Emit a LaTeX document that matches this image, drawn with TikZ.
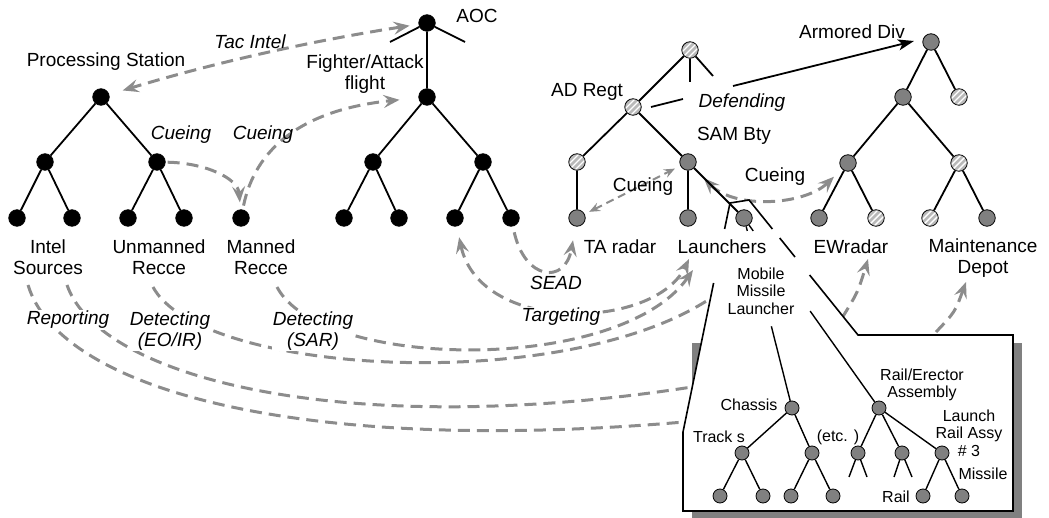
\documentclass[tikz,border=0pt]{standalone}
\usepackage{fontspec}
\setmainfont{Liberation Sans}
\usetikzlibrary{arrows.meta,calc}
\pgfdeclarelayer{bg}
\pgfsetlayers{bg,main}
\definecolor{flowgray}{RGB}{140,140,140}
\definecolor{nodegray}{RGB}{128,128,128}
\definecolor{hatchgray}{RGB}{185,185,185}
\definecolor{shadowgray}{RGB}{128,128,128}
\tikzset{
  flowtip/.tip={Stealth[length=16pt,width=13pt,inset=6pt]},
  smalltip/.tip={Stealth[length=11pt,width=9pt,inset=4pt]},
  bigtxt/.style={font=\fontsize{19}{21}\selectfont, inner sep=1pt, align=center},
  bigit/.style={font=\fontsize{19}{21}\selectfont\itshape, inner sep=1pt, align=center},
  smalltxt/.style={font=\fontsize{16}{17.5}\selectfont, inner sep=1pt, align=center},
  nd/.style={circle, draw=black, line width=0.8pt, minimum size=16.5pt, inner sep=0pt},
  blk/.style={nd, fill=black},
  gry/.style={nd, fill=nodegray},
  hat/.style={nd, fill=hatchgray, path picture={
    \foreach \s/\t in {-3/3,0/0,3/-3}{
      \draw[white, line width=1.4pt] ([shift={(\s pt,\t pt)}]path picture bounding box.center) ++(-12pt,-12pt) -- ++(24pt,24pt);
    }}},
  sgry/.style={gry, minimum size=14pt},
  treeline/.style={line width=1.8pt, black},
  ctreeline/.style={line width=1.4pt, black},
  outline/.style={line width=1.6pt, black, line join=miter},
  flowline/.style={draw=flowgray, line width=3pt, dash pattern=on 12pt off 7pt},
}
\begin{document}
\begin{tikzpicture}[x=1pt,y=-1pt]
\useasboundingbox (0,0) rectangle (1049,518);

% ---------- nodes ----------
\node[blk] (ps) at (101,97) {};
\node[blk] (l1) at (45,162) {};
\node[blk] (l2) at (157,162) {};
\node[blk] (l11) at (17,218) {};
\node[blk] (l12) at (72,218) {};
\node[blk] (l21) at (128,218) {};
\node[blk] (l22) at (184,218) {};
\node[blk] (mr) at (241,218) {};

\node[blk] (aoc) at (427,23) {};
\node[blk] (ff) at (427,97) {};
\node[blk] (a1) at (373,162) {};
\node[blk] (a2) at (483,162) {};
\node[blk] (a11) at (344,218) {};
\node[blk] (a12) at (399,218) {};
\node[blk] (a21) at (455,218) {};
\node[blk] (a22) at (511,218) {};

\node[hat] (adt) at (690,50) {};
\node[hat] (adr) at (633,107) {};
\node[hat] (ad1) at (577,162) {};
\node[gry] (ta) at (577,218) {};
\node[gry] (sam) at (688,162) {};
\node[gry] (la) at (688,218) {};
\node[gry] (cn) at (744,218) {};

\node[gry] (arm) at (931,42) {};
\node[gry] (ar1) at (903,97) {};
\node[hat] (ar2) at (959,97) {};
\node[gry] (ar11) at (848,163) {};
\node[hat] (ar12) at (959,163) {};
\node[gry] (e1) at (819,218) {};
\node[hat] (e2) at (876,218) {};
\node[hat] (e3) at (930,218) {};
\node[gry] (e4) at (987,218) {};

\node[sgry] (ch) at (792,408) {};
\node[sgry] (ch1) at (742,453) {};
\node[sgry] (ch2) at (812,453) {};
\node[sgry] (ch11) at (720,496) {};
\node[sgry] (ch12) at (763,496) {};
\node[sgry] (ch21) at (791,496) {};
\node[sgry] (ch22) at (833,496) {};
\node[sgry] (re) at (879,408) {};
\node[sgry] (re1) at (858,453) {};
\node[sgry] (re2) at (902,453) {};
\node[sgry] (re3) at (942,453) {};
\node[sgry] (re31) at (923,496) {};
\node[sgry] (re32) at (962,496) {};

% ---------- free-end coordinates ----------
\coordinate (aocSL) at (390,42);
\coordinate (aocSR) at (465,42);
\coordinate (adtSV) at (690,82);
\coordinate (adtSR) at (713,76);
\coordinate (re1L) at (849,477);
\coordinate (re1R) at (867,477);
\coordinate (re2L) at (894,477);
\coordinate (re2R) at (912,477);
\coordinate (defA) at (683,99);
\coordinate (defB) at (733,86);
\coordinate (lin1) at (689,259);
\coordinate (lin2) at (693,270);
\coordinate (sarS) at (277,287);
\coordinate (eoS) at (153,287);
\coordinate (eoE) at (708,300);
\coordinate (rep1S) at (28,285);
\coordinate (rep1E) at (684,422);
\coordinate (rep2S) at (67,285);
\coordinate (rep2E) at (692,387);
\coordinate (ewS) at (842,318);
\coordinate (ewIn) at (868,259);
\coordinate (mtS) at (936,332);
\coordinate (mtIn) at (966,282);

% ---------- background: shadow, flows, callout fill ----------
\begin{pgfonlayer}{bg}
\fill[shadowgray] (692,343) rectangle (1022,519);
% Tac Intel
\draw[flowline, flowtip-flowtip, shorten <=9pt, shorten >=14pt] (aoc) .. controls (330,38) and (230,58) .. (ps);
% Cueing (left)
\draw[flowline, -flowtip, shorten <=2pt, shorten >=7pt] (l2) .. controls (205,163) and (238,178) .. (mr);
% Cueing to fighter
\draw[flowline, -flowtip, shorten <=4pt, shorten >=19pt] (mr) .. controls (255,150) and (300,110) .. (ff);
% SEAD
\draw[flowline, -flowtip, shorten <=6pt, shorten >=14pt] (a22) .. controls (525,280) and (565,285) .. (ta);
% Targeting
\draw[flowline, flowtip-flowtip, shorten <=11pt] (a21) .. controls (480,335) and (655,330) .. (lin1);
% Detecting (SAR)
\draw[flowline, -flowtip] (sarS) .. controls (320,370) and (620,375) .. (lin2);
% Detecting (EO/IR)
\draw[flowline] (eoS) .. controls (200,375) and (560,395) .. (eoE);
% Reporting
\draw[flowline] (rep1S) .. controls (60,390) and (300,455) .. (rep1E);
\draw[flowline] (rep2S) .. controls (100,380) and (350,440) .. (rep2E);
% to EW radar and Maintenance Depot
\draw[flowline, -flowtip] (ewS) .. controls (858,292) .. (ewIn);
\draw[flowline, -flowtip] (mtS) .. controls (955,312) .. (mtIn);
% Cueing SAM - EW
\draw[flowline, flowtip-flowtip, shorten <=14pt, shorten >=11pt] (sam) .. controls (735,210) and (805,205) .. (ar11);
% Cueing TA - SAM
\draw[draw=flowgray, line width=2pt, dash pattern=on 8pt off 5pt, smalltip-smalltip, shorten <=5pt, shorten >=6pt] (ta) -- (sam);
% callout white area
\fill[white] (683,432) -- (730,203) -- (749,200) -- (858,335) -- (1013,335) -- (1013,511) -- (683,511) -- cycle;
\end{pgfonlayer}

% ---------- tree edges ----------
\draw[treeline] (ps)--(l1) (ps)--(l2) (l1)--(l11) (l1)--(l12) (l2)--(l21) (l2)--(l22);
\draw[treeline] (aoc)--(aocSL) (aoc)--(aocSR) (aoc)--(ff) (ff)--(a1) (ff)--(a2)
  (a1)--(a11) (a1)--(a12) (a2)--(a21) (a2)--(a22);
\draw[treeline] (adt)--(adr) (adt)--(adtSV) (adt)--(adtSR) (adr)--(ad1) (ad1)--(ta)
  (adr)--(sam) (sam)--(la) (sam)--(cn);
\draw[treeline] (arm)--(ar1) (arm)--(ar2) (ar1)--(ar11) (ar1)--(ar12)
  (ar11)--(e1) (ar11)--(e2) (ar12)--(e3) (ar12)--(e4);
% Defending arrow
\draw[treeline] ($(adr)+(18,0)$) -- (defA);
\draw[treeline, -{Stealth[length=16pt,width=11pt,inset=4pt]}] (defB) -- ($(arm)+(-17,-1)$);

% ---------- callout ----------
\draw[outline] (713.6,283) -- (683,432) -- (683,511) -- (1013,511) -- (1013,335) -- (858,335) -- (809.6,275);
\draw[outline] (795,257) -- (779.7,238);
\draw[outline] (772.4,229) -- (749,200) -- (730,203) -- (724.6,229);
\draw[ctreeline] (cn) -- ($(cn)!0.068!(ch)$);
\draw[ctreeline] ($(cn)!0.57!(ch)$) -- (ch);
\draw[ctreeline] (cn) -- ($(cn)!0.068!(re)$);
\draw[ctreeline] ($(cn)!0.49!(re)$) -- (re);
\draw[ctreeline] (ch)--(ch1) (ch)--(ch2) (ch1)--(ch11) (ch1)--(ch12) (ch2)--(ch21) (ch2)--(ch22)
  (re)--(re1) (re)--(re2) (re)--(re3) (re1)--(re1L) (re1)--(re1R) (re2)--(re2L) (re2)--(re2R)
  (re3)--(re31) (re3)--(re32);

% ---------- labels ----------
\node[bigtxt] (psT) at (106,62) {Processing Station};
\node[bigit] (tacT) at (250,42) {Tac Intel};
\node[bigit] (cue1) at (181,135) {Cueing};
\node[bigit] (cue2) at (263,135) {Cueing};
\node[bigtxt] (isT) at (48,257) {Intel\\Sources};
\node[bigtxt] (urT) at (159,257) {Unmanned\\Recce};
\node[bigtxt] (mrT) at (261,257) {Manned\\Recce};
\node[bigtxt] (aocT) at (477,16) {AOC};
\node[bigtxt] (ffT) at (365,74) {Fighter/Attack\\flight};
\node[bigtxt] (adrT) at (587,92) {AD Regt};
\node[bigit] (defT) at (742,103) {Defending};
\node[bigtxt] (armT) at (852,32) {Armored Div};
\node[bigtxt] (samT) at (734,136) {SAM Bty};
\node[bigtxt] (cue3) at (643,187) {Cueing};
\node[bigtxt] (cue4) at (775,177) {Cueing};
\node[bigtxt] (taT) at (620,247) {TA radar};
\node[bigtxt] (laT) at (722,247) {Launchers};
\node[bigtxt] (ewT) at (851,247) {EWradar};
\node[bigtxt] (mdT) at (983,258) {Maintenance\\Depot};
\node[bigit] (seadT) at (556,283) {SEAD};
\node[bigit, fill=white] (tgtT) at (561,317) {Targeting};
\node[bigit, fill=white] (repT) at (68,320) {Reporting};
\node[bigit, fill=white] (eoT) at (170,331) {Detecting\\(EO/IR)};
\node[bigit, fill=white] (sarT) at (313,331) {Detecting\\(SAR)};
\node[smalltxt] (mmlT) at (761,291) {Mobile\\Missile\\Launcher};
\node[smalltxt] (chT) at (749,405) {Chassis};
\node[smalltxt] (trT) at (719,437) {Track s};
\node[smalltxt] (etcT) at (838,437) {(etc. )};
\node[smalltxt] (reT) at (922,385) {Rail/Erector\\Assembly};
\node[smalltxt] (lrT) at (969,433) {Launch\\Rail Assy\\\# 3};
\node[smalltxt] (msT) at (983,474) {Missile};
\node[smalltxt] (rlT) at (896,497) {Rail};
\end{tikzpicture}
\end{document}
